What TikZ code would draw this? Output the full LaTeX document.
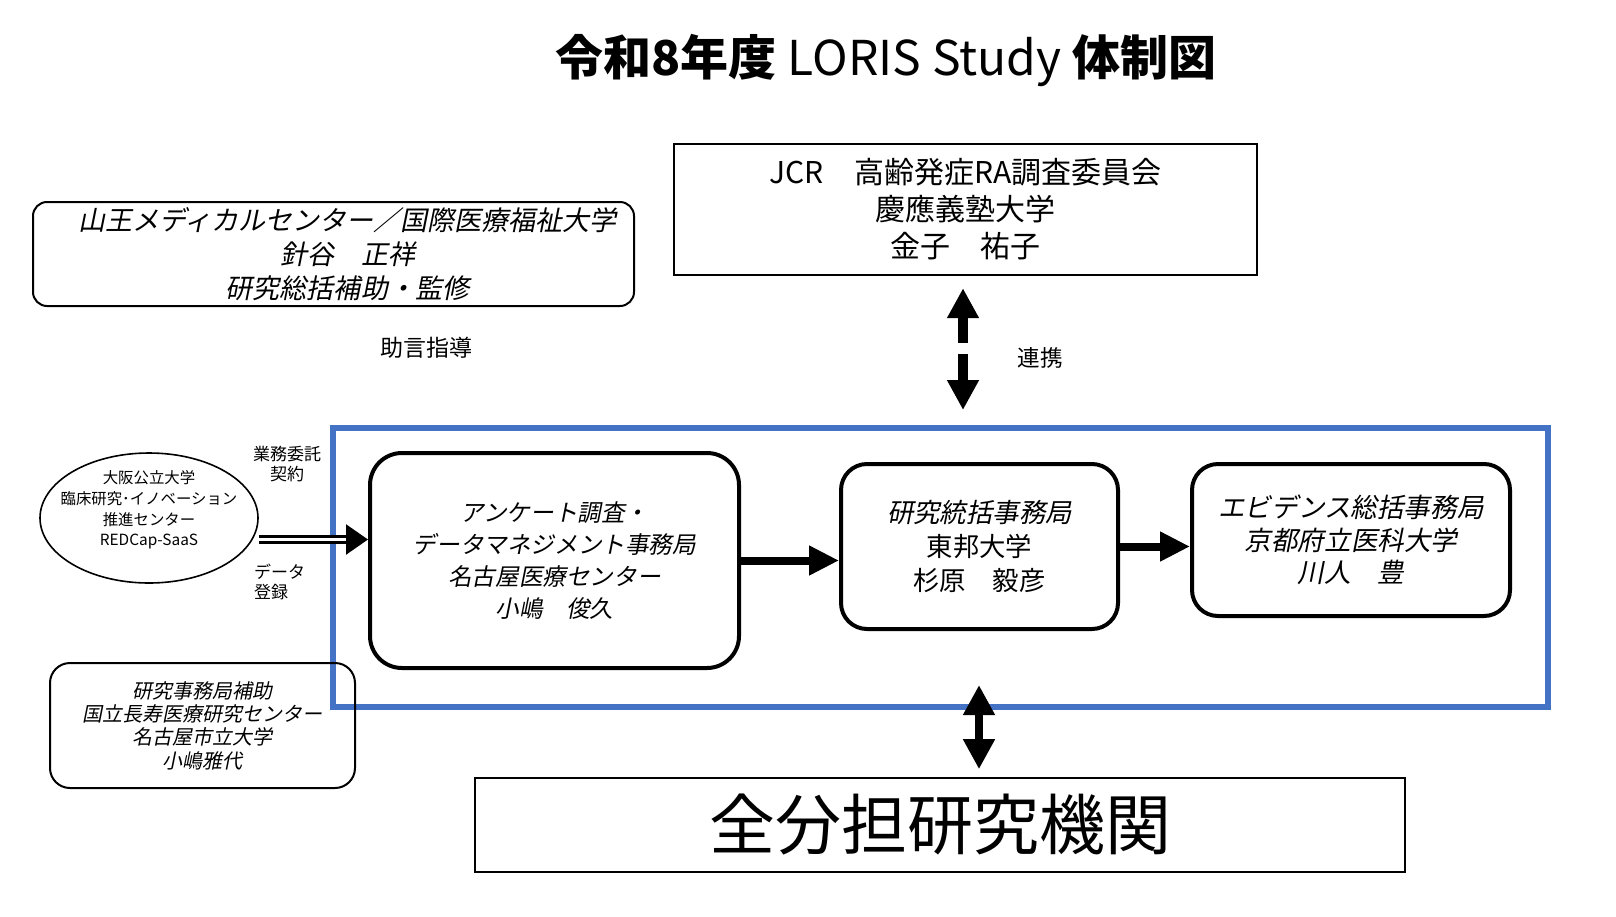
\documentclass[tikz,border=0pt]{standalone}
\usepackage{fontspec}
\setmainfont{Noto Sans CJK JP}
\newfontfamily\jpit{Noto Sans CJK JP}[FakeSlant=0.2]
\usetikzlibrary{arrows.meta,shapes.geometric}
\definecolor{coreblue}{HTML}{4472C4}

\begin{document}
\begin{tikzpicture}[
  x=0.5pt,y=-0.5pt,
  >=Triangle,
  sqbox/.style={draw,line width=1.2pt,align=center,inner sep=0pt},
  thinbox/.style={draw,rounded corners=7pt,line width=1pt,align=center,inner sep=0pt},
  unitbox/.style={draw,rounded corners=13pt,line width=2pt,align=center,inner sep=0pt},
  flowarrow/.style={line width=4pt,-{Triangle[length=15pt,width=14pt]}},
  linkarrow/.style={line width=4pt,{Triangle[length=15pt,width=15pt]}-{Triangle[length=15pt,width=15pt]}},
  dblarrow/.style={double,line width=1.2pt,double distance=1.8pt,-{Triangle[length=11pt,width=15pt]}},
  note/.style={font=\fontsize{8.5pt}{10pt}\selectfont}
]
  \useasboundingbox (0,0) rectangle (1616,916);

  \node (title) at (886,60) {\fontsize{24pt}{28pt}\selectfont\bfseries 令和8年度 {\mdseries LORIS Study} 体制図};

  % advisory and partner bodies
  \node[thinbox,minimum width=300.5pt,minimum height=52pt,
    label={[align=center,xshift=7pt,font=\jpit\fontsize{13.5pt}{17pt}\selectfont]center:山王メディカルセンター／国際医療福祉大学\\針谷　正祥\\研究総括補助・監修}] (sanno) at (333.5,254) {};
  \node[sqbox,minimum width=291.5pt,minimum height=65.5pt,font=\fontsize{15pt}{18.5pt}\selectfont] (jcr) at (965.5,209.5)
    {JCR　高齢発症RA調査委員会\\慶應義塾大学\\金子　祐子};
  \node[font=\fontsize{11.5pt}{14pt}\selectfont] (advice) at (426,348) {助言指導};
  \node[font=\fontsize{11.3pt}{14pt}\selectfont] (renkei) at (1040,358) {連携};

  % core offices
  \node[draw=coreblue,line width=3pt,minimum width=607.5pt,minimum height=139.5pt,inner sep=0pt] (core) at (940.5,567.5) {};
  \node[unitbox,rounded corners=16pt,minimum width=184.5pt,minimum height=107.5pt,font=\jpit\fontsize{11.8pt}{16pt}\selectfont] (ank) at (554.5,560.5)
    {アンケート調査・\\データマネジメント事務局\\名古屋医療センター\\小嶋　俊久};
  \node[unitbox,minimum width=138.5pt,minimum height=82.5pt,font=\fontsize{13.2pt}{17pt}\selectfont] (toho) at (979.5,546.5)
    {{\jpit 研究統括事務局}\\東邦大学\\杉原　毅彦};
  \node[unitbox,minimum width=159pt,minimum height=76pt,font=\jpit\fontsize{13.3pt}{16.3pt}\selectfont] (kyoto) at (1351,540)
    {エビデンス総括事務局\\京都府立医科大学\\川人　豊};

  \node[ellipse,draw,line width=0.8pt,minimum width=109pt,minimum height=65pt,inner sep=0pt,
    label={[align=center,yshift=4pt,font=\fontsize{7.7pt}{10.3pt}\selectfont]center:大阪公立大学\\臨床研究･イノベーション\\推進センター\\REDCap-SaaS}] (osaka) at (149,518) {};
  \node[note,align=center] (contract) at (287,464) {業務委託\\契約};
  \node[note,align=left,anchor=west] (entry) at (247,582) {データ\\登録};

  \node[thinbox,rounded corners=10pt,minimum width=152.5pt,minimum height=62.5pt,font=\jpit\fontsize{10pt}{11.7pt}\selectfont] (jimu) at (202.5,725.5)
    {研究事務局補助\\国立長寿医療研究センター\\名古屋市立大学\\小嶋雅代};
  \node[draw,line width=0.8pt,minimum width=465pt,minimum height=47pt,inner sep=0pt,font=\fontsize{33pt}{36pt}\selectfont] (all) at (940,825) {全分担研究機関};

  % connectors
  \coordinate (feed) at ([yshift=10.5pt]ank.west);
  \draw[dblarrow] (osaka.east |- feed) -- (feed);
  \draw[flowarrow] (ank.east) -- (ank.east -| toho.west);
  \draw[flowarrow] (toho.east) -- (toho.east -| kyoto.west);
  \coordinate (up) at ([xshift=-1.25pt]jcr.south);
  \draw[linkarrow,line width=5pt,dash pattern=on 13.5pt off 5.5pt,shorten <=6pt,shorten >=7.5pt] (up) -- (up |- core.north);
  \coordinate (dn) at ([xshift=19.5pt]all.north);
  \draw[linkarrow,shorten <=4pt,shorten >=-12.5pt] (dn) -- (dn |- core.south);
\end{tikzpicture}
\end{document}
